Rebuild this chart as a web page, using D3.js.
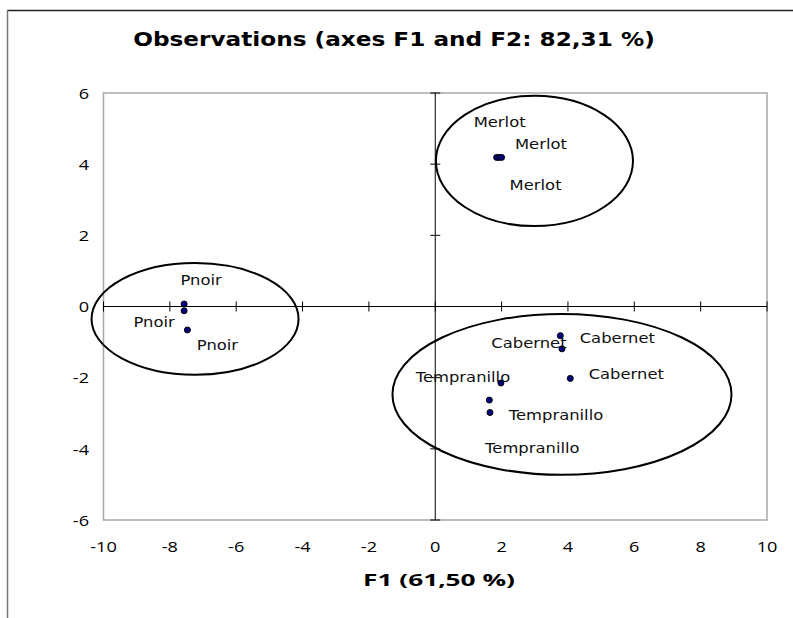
<!DOCTYPE html>
<html>
<head>
<meta charset="utf-8">
<script src="https://cdn.jsdelivr.net/npm/d3@7"></script>
<style>
  html, body { margin: 0; padding: 0; background: #fff; }
  svg { display: block; }
</style>
</head>
<body>
<svg id="chart" width="793" height="618"></svg>
<script>
// Observation names and their coordinates on the first two factors
const names = ["Pnoir", "Pnoir", "Pnoir",
               "Merlot", "Merlot", "Merlot",
               "Cabernet", "Cabernet", "Cabernet",
               "Tempranillo", "Tempranillo", "Tempranillo"];
const f1 = [-7.57, -7.57, -7.47,
            1.85, 1.92, 2.00,
            3.77, 3.82, 4.07,
            1.98, 1.63, 1.65];
const f2 = [0.07, -0.12, -0.66,
            4.19, 4.19, 4.19,
            -0.82, -1.19, -2.02,
            -2.15, -2.63, -2.98];

// Group ellipses: centre (cx, cy) and radii (rx, ry) in factor units
const groupNames = ["Pnoir", "Merlot", "Cabernet / Tempranillo"];
const groupCx = [-7.24, 2.99, 3.82];
const groupCy = [-0.35, 4.09, -2.47];
const groupRx = [3.12, 2.97, 5.11];
const groupRy = [1.57, 1.83, 2.26];

// Tick values for both axes
const xTicks = [-10, -8, -6, -4, -2, 0, 2, 4, 6, 8, 10];
const yTicks = [-6, -4, -2, 0, 2, 4, 6];

const titleText = "Observations (axes F1 and F2: 82,31 %)";
const xTitleText = "F1 (61,50 %)";

// ---- layout ----
const plot = { left: 103.5, right: 767, top: 93, bottom: 520 };
// Label offsets (px) from each point, in the same order as names
const labelDx = [17, -30, 30, 3, 42, 34, 57, -33, 56, -38, 43, 66];
const labelDy = [-24, 12, 15, -35, -13, 28, 3, -6, -4, -6, 48, 3];

const svg = d3.select("#chart");

const x = d3.scaleLinear().domain([-10, 10]).range([plot.left, plot.right]);
const y = d3.scaleLinear().domain([-6, 6]).range([plot.bottom, plot.top]);

// Outer chart frame (top and left edges)
svg.append("line").attr("x1", 7).attr("x2", 793).attr("y1", 10.5).attr("y2", 10.5)
  .attr("stroke", "#222").attr("stroke-width", 1.5);
svg.append("line").attr("x1", 7.5).attr("x2", 7.5).attr("y1", 10).attr("y2", 618)
  .attr("stroke", "#777").attr("stroke-width", 1.5);

// Plot area border
svg.append("rect")
  .attr("x", plot.left).attr("y", plot.top)
  .attr("width", plot.right - plot.left).attr("height", plot.bottom - plot.top)
  .attr("fill", "none").attr("stroke", "#a8a8a8").attr("stroke-width", 1.5);

// Zero axes with crossing tick marks
const axes = svg.append("g").attr("stroke", "#000").attr("stroke-width", 1);
axes.append("line").attr("x1", x(-10)).attr("x2", x(10)).attr("y1", y(0)).attr("y2", y(0));
axes.append("line").attr("x1", x(0)).attr("x2", x(0)).attr("y1", y(-6)).attr("y2", y(6));
axes.selectAll(".xt").data(xTicks).join("line")
  .attr("x1", d => x(d)).attr("x2", d => x(d))
  .attr("y1", y(0) - 5).attr("y2", y(0) + 5);
axes.selectAll(".yt").data(yTicks).join("line")
  .attr("x1", x(0) - 5).attr("x2", x(0) + 5)
  .attr("y1", d => y(d)).attr("y2", d => y(d));

// Helper: place text at (px, py) with a horizontal stretch
function place(sel, px, py, sx) {
  return sel.attr("transform", (d, i) =>
    `translate(${typeof px === "function" ? px(d, i) : px},${typeof py === "function" ? py(d, i) : py}) scale(${sx},1)`);
}

// Tick labels
const tickFont = { family: "'Open Sans', sans-serif", size: 14.5, sx: 1.25 };
place(svg.append("g").selectAll("text").data(xTicks).join("text")
  .attr("text-anchor", "middle").attr("dominant-baseline", "central")
  .attr("font-family", tickFont.family).attr("font-size", tickFont.size).attr("fill", "#000")
  .text(d => d), d => x(d), 546, tickFont.sx);
place(svg.append("g").selectAll("text").data(yTicks).join("text")
  .attr("text-anchor", "end").attr("dominant-baseline", "central")
  .attr("font-family", tickFont.family).attr("font-size", tickFont.size).attr("fill", "#000")
  .text(d => d), 89, d => y(d), tickFont.sx);

// Group ellipses
svg.append("g").selectAll("ellipse").data(groupNames).join("ellipse")
  .attr("cx", (d, i) => x(groupCx[i]))
  .attr("cy", (d, i) => y(groupCy[i]))
  .attr("rx", (d, i) => x(groupRx[i]) - x(0))
  .attr("ry", (d, i) => y(0) - y(groupRy[i]))
  .attr("fill", "none").attr("stroke", "#000").attr("stroke-width", 2);

// Observation points
svg.append("g").selectAll("circle").data(names).join("circle")
  .attr("cx", (d, i) => x(f1[i]))
  .attr("cy", (d, i) => y(f2[i]))
  .attr("r", 3)
  .attr("fill", "#000080").attr("stroke", "#000").attr("stroke-width", 1);

// Observation labels
place(svg.append("g").selectAll("text").data(names).join("text")
  .attr("text-anchor", "middle").attr("dominant-baseline", "central")
  .attr("font-family", "'DejaVu Sans', sans-serif").attr("font-size", 14.5).attr("fill", "#111")
  .text(d => d),
  (d, i) => x(f1[i]) + labelDx[i], (d, i) => y(f2[i]) + labelDy[i], 1.13);

// Titles, stretched to their measured widths
function fitText(text, cx, cy, width, font, size, weight) {
  const t = svg.append("text")
    .attr("text-anchor", "middle").attr("dominant-baseline", "central")
    .attr("font-family", font).attr("font-size", size).attr("font-weight", weight)
    .attr("fill", "#000").text(text);
  const len = t.node().getComputedTextLength();
  t.attr("transform", `translate(${cx},${cy}) scale(${width / len},1)`);
}
fitText(titleText, 394, 39, 522, "'DejaVu Sans', sans-serif", 19, "bold");
fitText(xTitleText, 439, 580, 152, "'Open Sans', sans-serif", 16, "bold");
</script>
</body>
</html>
